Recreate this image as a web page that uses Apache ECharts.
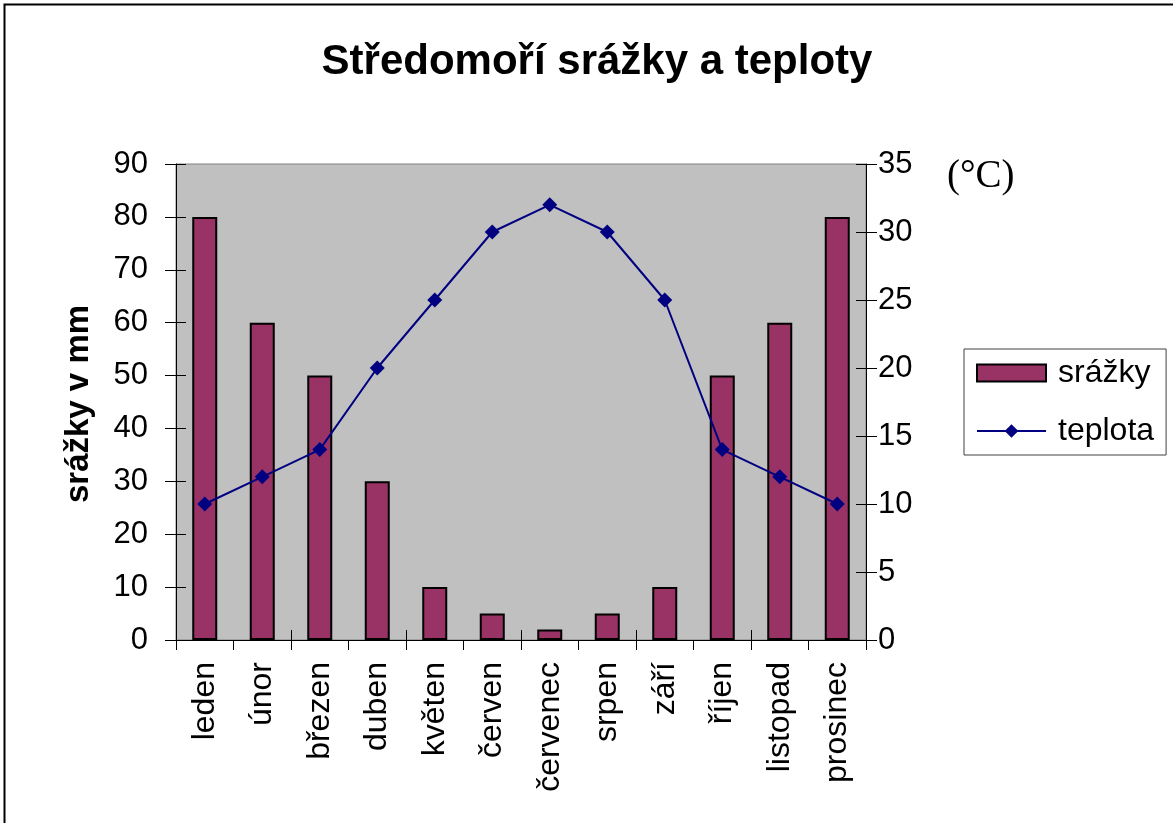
<!DOCTYPE html>
<html><head><meta charset="utf-8">
<script src="https://cdn.jsdelivr.net/npm/echarts@6/dist/echarts.min.js"></script>
<style>html,body{margin:0;padding:0;background:#fff}#c{width:1173px;height:823px}</style>
</head><body><div id="c"></div>
<script>
const months = ['leden','únor','březen','duben','květen','červen','červenec','srpen','září','říjen','listopad','prosinec'];
const srazky = [80,60,50,30,10,5,2,5,10,50,60,80];
const teplota = [10,12,14,20,25,30,32,30,25,14,12,10];
const titleText = 'Středomoří srážky a teploty';
const leftAxisName = 'srážky v mm';
const rightUnit = '(°C)';

const chart = echarts.init(document.getElementById('c'), null, {renderer:'canvas'});
const F = 'Liberation Sans, Arial, sans-serif';
const grid = {left:176, top:164, width:690, height:476, show:true, backgroundColor:'#c0c0c0', borderColor:'#808080', borderWidth:1};
const tickStyle = {color:'#000', width:1};
chart.setOption({
  animation:false,
  graphic:[
    {type:'rect', shape:{x:4.5, y:4.5, width:1200, height:900}, style:{fill:'none', stroke:'#000', lineWidth:2}},
    {type:'text', x:597, y:41, style:{text:titleText, font:'bold 42px '+F, fill:'#000', align:'center', verticalAlign:'top'}},
    {type:'text', x:947, y:157, style:{text:rightUnit, font:'39px "Liberation Serif", "Times New Roman", serif', fill:'#000', verticalAlign:'top'}},
    {type:'text', rotation:Math.PI/2, x:62, y:404, style:{text:leftAxisName, font:'bold 33px '+F, fill:'#000', align:'center', verticalAlign:'top'}}
  ],
  legend:{orient:'vertical', left:964, top:349, padding:[7,12,7,12], itemGap:24, itemWidth:69, itemHeight:17,
    backgroundColor:'#fff', borderColor:'#404040', borderWidth:1, borderRadius:0,
    textStyle:{fontFamily:F, fontSize:32, lineHeight:34, color:'#000', padding:[0,0,0,7]},
    data:[{name:'srážky', icon:'rect'}, {name:'teplota'}]},
  grid:[grid],
  xAxis:[
    {type:'category', data:months, gridIndex:0, boundaryGap:true,
     axisLine:{show:true, lineStyle:{color:'#000', width:1}},
     axisTick:{show:true, length:10, inside:false, lineStyle:tickStyle},
     axisLabel:{rotate:90, fontFamily:F, fontSize:32, color:'#000', margin:22}},
    {type:'category', data:months, gridIndex:0, position:'bottom', boundaryGap:true,
     axisLine:{show:false}, axisTick:{show:true, length:10, inside:true, lineStyle:tickStyle}, axisLabel:{show:false}}
  ],
  yAxis:[
    {type:'value', min:0, max:90, interval:10, position:'left',
     axisLine:{show:true, lineStyle:{color:'#000'}}, axisTick:{show:true, length:11, lineStyle:tickStyle},
     splitLine:{show:false}, axisLabel:{fontFamily:F, fontSize:31, color:'#000', margin:28}},
    {type:'value', min:0, max:35, interval:5, position:'right',
     axisLine:{show:true, lineStyle:{color:'#000'}}, axisTick:{show:true, length:11, lineStyle:tickStyle},
     splitLine:{show:false}, axisLabel:{fontFamily:F, fontSize:31, color:'#000', margin:12}},
    {type:'value', min:0, max:90, interval:10, position:'left',
     axisLine:{show:false}, axisTick:{show:true, inside:true, length:10, lineStyle:tickStyle}, splitLine:{show:false}, axisLabel:{show:false}},
    {type:'value', min:0, max:35, interval:5, position:'right',
     axisLine:{show:false}, axisTick:{show:true, inside:true, length:10, lineStyle:tickStyle}, splitLine:{show:false}, axisLabel:{show:false}}
  ],
  series:[
    {name:'srážky', type:'bar', data:srazky, xAxisIndex:0, yAxisIndex:0, barWidth:25,
     itemStyle:{color:'#993366', borderColor:'#000', borderWidth:2}},
    {name:'teplota', type:'line', data:teplota, xAxisIndex:0, yAxisIndex:1,
     symbol:'diamond', symbolSize:15, lineStyle:{color:'#000080', width:2}, itemStyle:{color:'#000080'}}
  ]
});
</script></body></html>
